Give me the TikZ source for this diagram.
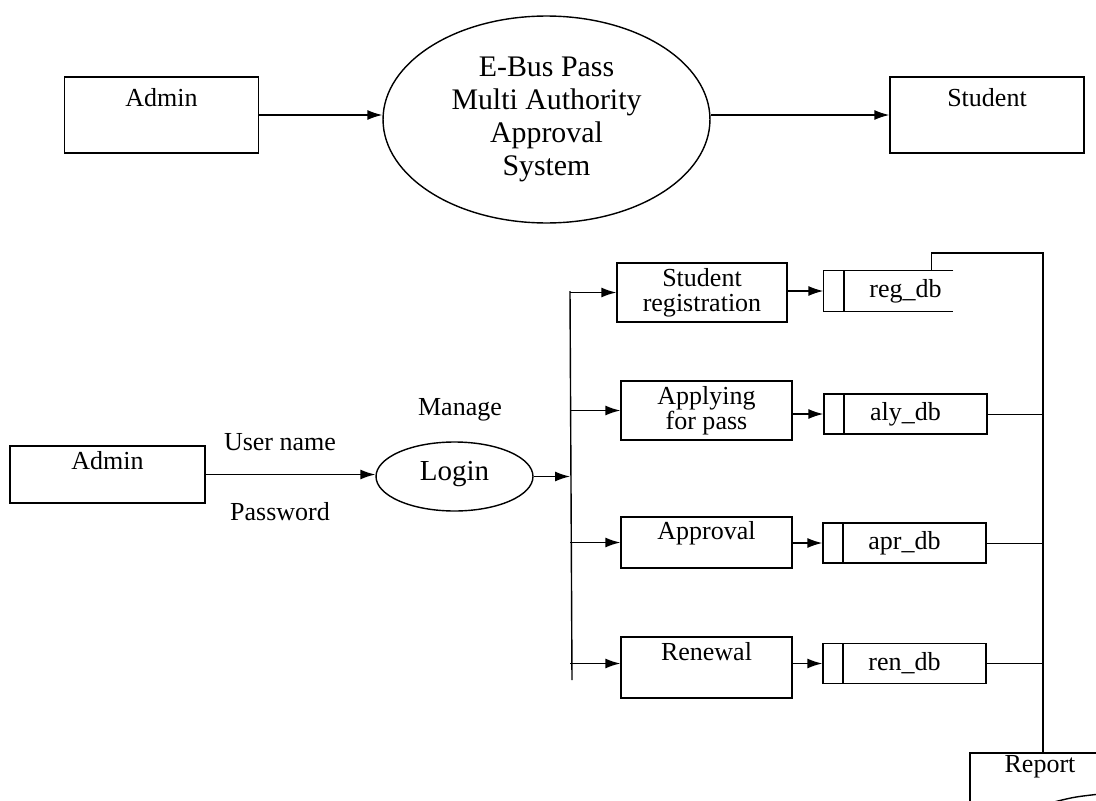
\documentclass[tikz,border=0pt]{standalone}
\usepackage{fontspec}
\setmainfont{Liberation Serif}
\usetikzlibrary{shapes.geometric,arrows.meta}
\begin{document}
\begin{tikzpicture}[x=0.02cm,y=-0.02cm,line width=0.8pt,font=\fontsize{14.8}{14}\selectfont,
ent/.style={draw,inner sep=0pt,minimum width=3.88cm,minimum height=1.52cm,text height=0.58cm,text depth=0.94cm},
proc/.style={draw,inner sep=0pt,minimum width=3.42cm},
store/.style={draw,inner sep=0pt,minimum width=3.26cm,minimum height=0.8cm,path picture={\draw([xshift=0.4cm]path picture bounding box.north west)--([xshift=0.4cm]path picture bounding box.south west);}},
flow/.style={-{Latex[length=3mm,width=2mm]}},
tie/.style={line width=0.5pt}]
\useasboundingbox (0,0) rectangle (1096,801);
% context level
\node[ent] (adm) at (161.5,115) {Admin};
\node[ellipse,draw,inner sep=0pt,minimum width=6.54cm,minimum height=4.14cm,align=center,font=\fontsize{17}{18.8}\selectfont] (sys) at (546.5,119.5) {E-Bus Pass\\Multi Authority\\Approval\\System};
\node[ent] (stu) at (987,115) {Student};
\draw[flow](adm.east)--(adm.east-|sys.west);
\draw[flow](sys.east|-stu.west)--(stu.west);
% level 1
\node[ent,minimum width=3.9cm,minimum height=1.14cm,text height=0.46cm,text depth=0.68cm] (adm2) at (107.5,474.5) {Admin};
\node[ellipse,draw,inner sep=0pt,minimum width=3.14cm,minimum height=1.38cm,text height=0.45cm,text depth=0.3cm,font=\fontsize{16.5}{18}\selectfont] (login) at (454.5,476.5) {Login};
\node (uname) at (280,442) {User name};
\node (pwd) at (280,512) {Password};
\node (mng) at (460,410) {Manage};
\draw[flow](adm2.east)--(adm2.east-|login.west);
\coordinate (bt) at (570,291);
\coordinate (bb) at (572,680);
\draw(bt)--(bb);
\draw[flow](login.east)--(login.east-|bt);
\node[proc,minimum width=3.4cm,minimum height=1.18cm,align=center] (reg) at (702,292.5) {Student\\registration};
\node[proc,minimum height=1.18cm,align=center] (apl) at (706.5,410.5) {Applying\\for pass};
\node[proc,minimum height=1.02cm,text height=0.44cm,text depth=0.58cm] (apr) at (706.5,542.5) {Approval};
\node[proc,minimum height=1.22cm,text height=0.46cm,text depth=0.76cm] (ren) at (706.5,667.5) {Renewal};
\node[store,draw=none] (rdb) at (905.5,291) {reg\_db};
\node[store] (adb) at (905.5,414) {aly\_db};
\node[store] (pdb) at (904.5,543) {apr\_db};
\node[store] (ndb) at (904.5,663.5) {ren\_db};
\draw([xshift=2.6cm]rdb.north west)--(rdb.north west)--(rdb.south west)--([xshift=2.6cm]rdb.south west);
\foreach \b in {reg,apl,apr} \draw[flow](\b.west-|bt)--(\b.west);
\draw[flow](ndb.west-|bt)--(ndb.west-|ren.west);
\foreach \a/\b in {reg/rdb,apl/adb,apr/pdb,ren/ndb} \draw[flow](\b.west-|\a.east)--(\b.west);
% report
\coordinate (rtop) at (1043,253);
\coordinate (rep) at (970,753);
\node (report) at (1040,767) {Report};
\draw([xshift=2.6cm]rep)--(rep)--([yshift=-1cm]rep);
\draw(1054,802) .. controls (1074,797) .. (1100,794);
\draw([xshift=2.16cm]rdb.north west)|-(rtop)--(rtop|-rep);
\foreach \b in {adb,pdb,ndb} \draw[tie](\b.east)--(\b.east-|rtop);
\end{tikzpicture}
\end{document}
